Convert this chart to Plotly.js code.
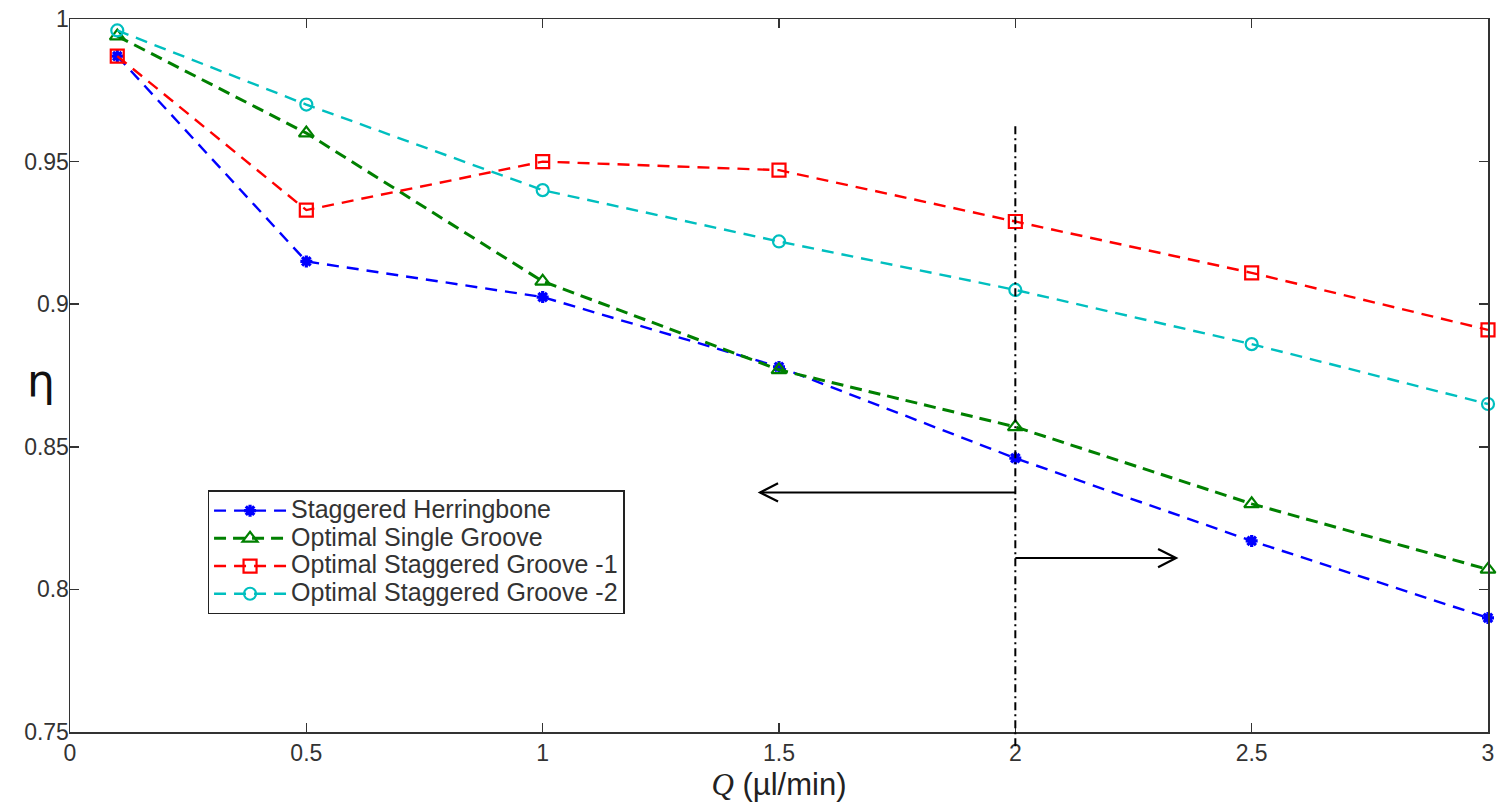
<!DOCTYPE html>
<html>
<head>
<meta charset="utf-8">
<script src="https://cdn.plot.ly/plotly-3.0.1.min.js"></script>
<style>html,body{margin:0;padding:0;background:#fff;}#chart{width:1502px;height:804px;}</style>
</head>
<body>
<div id="chart"></div>
<script>
const flowRates = [0.1, 0.5, 1, 1.5, 2, 2.5, 3];
const staggeredHerringbone = [0.987, 0.915, 0.9025, 0.878, 0.846, 0.817, 0.790];
const optimalSingleGroove = [0.994, 0.960, 0.908, 0.877, 0.857, 0.830, 0.807];
const optimalStaggered1 = [0.987, 0.933, 0.950, 0.947, 0.929, 0.911, 0.891];
const optimalStaggered2 = [0.996, 0.970, 0.940, 0.922, 0.905, 0.886, 0.865];
const seriesNames = ['Staggered Herringbone', 'Optimal Single Groove', 'Optimal Staggered Groove -1', 'Optimal Staggered Groove -2'];
const xTicks = [0, 0.5, 1, 1.5, 2, 2.5, 3];
const yTicks = [0.75, 0.8, 0.85, 0.9, 0.95, 1];

const divider = 2;
const arrowLeft = {from: 2, to: 1.46, y: 0.834};
const arrowRight = {from: 2, to: 2.34, y: 0.811};

function mk(y, name, color, symbol, width, dash, size, mlw) {
  return {
    x: flowRates, y: y, type: 'scatter', mode: 'lines+markers',
    name: '<span style="font-size:25px">' + name + '</span>',
    line: {color: color, width: width, dash: dash},
    marker: {symbol: symbol, size: size, color: color, line: {color: color, width: mlw}},
    cliponaxis: false
  };
}
const traces = [
  mk(staggeredHerringbone, seriesNames[0], '#0000ff', 'asterisk-open', 2.4, '12px,8px', 10, 3.2),
  mk(optimalSingleGroove, seriesNames[1], '#008000', 'triangle-up-open', 3, '12px,7px', 13, 2.2),
  mk(optimalStaggered1, seriesNames[2], '#ff0000', 'square-open', 2.4, '12px,8px', 13, 2.2),
  mk(optimalStaggered2, seriesNames[3], '#00bfbf', 'circle-open', 2.4, '12px,8px', 12, 2.2)
];

const ax = {
  showgrid: false, zeroline: false, showline: true, linecolor: '#333', linewidth: 1.5,
  mirror: 'ticks', ticks: 'inside', ticklen: 9, tickcolor: '#333', tickwidth: 1.5,
  tickfont: {family: 'Liberation Sans, Arial, sans-serif', size: 23, color: '#333'}
};

const shapes = [
  {type: 'line', xref: 'x', yref: 'paper', x0: divider, x1: divider, y0: -0.02, y1: 0.852,
   line: {color: '#000', width: 2, dash: '8px,4px,2px,4px'}},
  {type: 'line', xref: 'x', yref: 'y', x0: arrowLeft.from, x1: arrowLeft.to, y0: arrowLeft.y, y1: arrowLeft.y,
   line: {color: '#000', width: 2}},
  {type: 'path', xref: 'x', yref: 'y',
   path: `M ${arrowLeft.to + 0.038} ${arrowLeft.y + 0.0032} L ${arrowLeft.to} ${arrowLeft.y} L ${arrowLeft.to + 0.038} ${arrowLeft.y - 0.0032}`,
   line: {color: '#000', width: 2.2}},
  {type: 'line', xref: 'x', yref: 'y', x0: arrowRight.from, x1: arrowRight.to, y0: arrowRight.y, y1: arrowRight.y,
   line: {color: '#000', width: 2}},
  {type: 'path', xref: 'x', yref: 'y',
   path: `M ${arrowRight.to - 0.038} ${arrowRight.y + 0.0032} L ${arrowRight.to} ${arrowRight.y} L ${arrowRight.to - 0.038} ${arrowRight.y - 0.0032}`,
   line: {color: '#000', width: 2.2}}
];

const layout = {
  width: 1502, height: 804,
  margin: {l: 70, r: 14, t: 19, b: 72},
  paper_bgcolor: '#fff', plot_bgcolor: '#fff',
  showlegend: true,
  legend: {
    x: 0.097, y: 0.339, xanchor: 'left', yanchor: 'top',
    bgcolor: '#fff', bordercolor: '#222', borderwidth: 1.5,
    font: {family: 'Liberation Sans, Arial, sans-serif', size: 19, color: '#333'},
    tracegroupgap: 0, itemwidth: 72
  },
  xaxis: Object.assign({}, ax, {
    range: [0, 3], tickvals: xTicks, ticktext: xTicks.map(String),
    title: {text: '<i><span style="font-family:Liberation Serif, Times New Roman, serif">Q</span></i> (µl/min)',
            font: {family: 'Liberation Sans, Arial, sans-serif', size: 31, color: '#222'}, standoff: 8}
  }),
  yaxis: Object.assign({}, ax, {
    range: [0.75, 1], tickvals: yTicks, ticktext: yTicks.map(String), ticklabelstandoff: -5
  }),
  shapes: shapes,
  annotations: [
    {text: 'η', xref: 'paper', yref: 'paper', x: -0.032, y: 0.493, showarrow: false,
     font: {family: 'DejaVu Sans, sans-serif', size: 44, color: '#111'}}
  ]
};

Plotly.newPlot('chart', traces, layout, {displayModeBar: false, staticPlot: true});
</script>
</body>
</html>
